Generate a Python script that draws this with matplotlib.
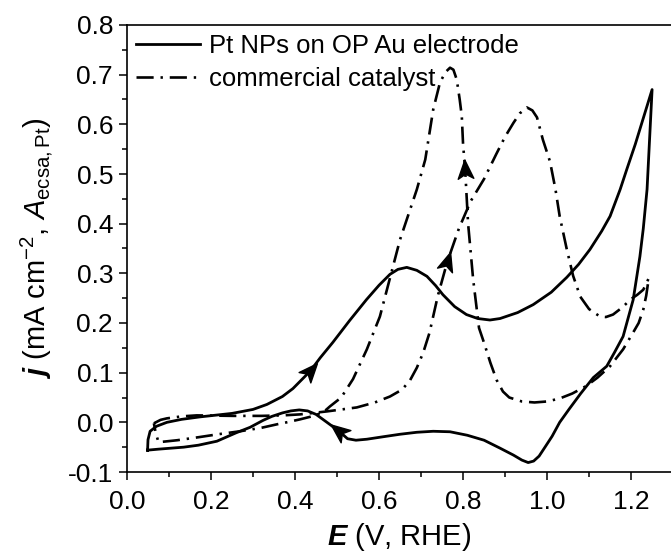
import numpy as np
import matplotlib
matplotlib.use("Agg")
import matplotlib.pyplot as plt
from matplotlib.path import Path
from matplotlib.markers import MarkerStyle
from matplotlib.transforms import Affine2D
from matplotlib.ticker import MultipleLocator, FormatStrFormatter

plt.rcParams['font.family'] = ['Liberation Sans', 'DejaVu Sans']
plt.rcParams['mathtext.fontset'] = 'custom'
plt.rcParams['mathtext.rm'] = 'Liberation Sans'
plt.rcParams['mathtext.it'] = 'Liberation Sans:italic'
plt.rcParams['mathtext.bf'] = 'Liberation Sans:bold:italic'
plt.rcParams['axes.unicode_minus'] = False

# --- datos (E en V vs RHE, j en mA cm-2) ---
# Pt NPs sobre electrodo OP Au: barrido anodico y luego catodico
pt_E = [0.049, 0.050, 0.055, 0.07, 0.095, 0.13, 0.174, 0.25, 0.30, 0.333, 0.37, 0.395,
        0.436, 0.46, 0.49, 0.53, 0.57, 0.60, 0.626, 0.645, 0.666, 0.69, 0.714, 0.735,
        0.752, 0.78, 0.808, 0.835, 0.864, 0.888, 0.93, 0.967, 1.01, 1.047, 1.075, 1.102,
        1.13, 1.15, 1.174, 1.19, 1.21, 1.23, 1.25,
        1.244, 1.238, 1.229, 1.221, 1.205, 1.181, 1.16, 1.142, 1.11, 1.08, 1.052, 1.03,
        1.012, 0.995, 0.981, 0.968, 0.955, 0.94, 0.92, 0.888, 0.85, 0.81, 0.769, 0.729,
        0.69, 0.65, 0.61, 0.571, 0.545, 0.525, 0.505, 0.476, 0.45, 0.43, 0.41, 0.39,
        0.37, 0.345, 0.324, 0.293, 0.26, 0.214, 0.17, 0.135, 0.105, 0.075, 0.049]
pt_j = [-0.056, -0.035, -0.018, -0.008, 0.0, 0.006, 0.011, 0.018, 0.026, 0.036, 0.052, 0.068,
        0.103, 0.13, 0.161, 0.205, 0.247, 0.276, 0.298, 0.308, 0.312, 0.306, 0.294, 0.275,
        0.257, 0.233, 0.217, 0.209, 0.206, 0.209, 0.221, 0.237, 0.262, 0.292, 0.318, 0.348,
        0.385, 0.415, 0.469, 0.51, 0.56, 0.615, 0.67,
        0.57, 0.469, 0.39, 0.334, 0.247, 0.173, 0.14, 0.113, 0.09, 0.058, 0.026, 0.0,
        -0.028, -0.05, -0.068, -0.078, -0.081, -0.076, -0.066, -0.052, -0.036, -0.026, -0.019, -0.018,
        -0.02, -0.024, -0.029, -0.034, -0.036, -0.033, -0.018, 0.0, 0.016, 0.023, 0.025, 0.023,
        0.019, 0.012, 0.004, -0.01, -0.021, -0.038, -0.046, -0.05, -0.052, -0.054, -0.056]

# catalizador comercial
com_E = [0.064, 0.08, 0.095, 0.13, 0.166, 0.253, 0.32, 0.371, 0.412, 0.476, 0.547, 0.59,
         0.626, 0.655, 0.674, 0.69, 0.705, 0.72, 0.74, 0.762, 0.79, 0.818, 0.85, 0.879,
         0.90, 0.92, 0.935, 0.952, 0.965, 0.976, 0.99, 1.007, 1.02, 1.03, 1.047, 1.062,
         1.079, 1.10, 1.126, 1.14, 1.157, 1.18, 1.198, 1.215, 1.229, 1.242,
         1.236, 1.229, 1.218, 1.205, 1.181, 1.15, 1.12, 1.093, 1.06, 1.03, 1.0, 0.97,
         0.94, 0.91, 0.895, 0.88, 0.865, 0.85, 0.838, 0.824, 0.812, 0.805, 0.80, 0.797,
         0.792, 0.785, 0.777, 0.769, 0.758, 0.745, 0.729, 0.71, 0.69, 0.65, 0.602, 0.571,
         0.538, 0.51, 0.483, 0.467, 0.44, 0.412, 0.38, 0.357, 0.32, 0.269, 0.217, 0.17,
         0.12, 0.075, 0.068, 0.064]
com_j = [-0.002, 0.005, 0.008, 0.012, 0.014, 0.013, 0.013, 0.014, 0.016, 0.022, 0.03, 0.04,
         0.052, 0.066, 0.085, 0.11, 0.14, 0.18, 0.255, 0.322, 0.39, 0.445, 0.49, 0.54,
         0.575, 0.603, 0.622, 0.634, 0.628, 0.614, 0.569, 0.525, 0.469, 0.415, 0.348, 0.295,
         0.253, 0.228, 0.213, 0.212, 0.217, 0.232, 0.247, 0.257, 0.267, 0.29,
         0.255, 0.227, 0.20, 0.181, 0.147, 0.113, 0.09, 0.073, 0.058, 0.048, 0.042, 0.04,
         0.042, 0.05, 0.062, 0.085, 0.12, 0.16, 0.19, 0.288, 0.40, 0.509, 0.56, 0.616,
         0.65, 0.69, 0.71, 0.714, 0.705, 0.684, 0.63, 0.529, 0.469, 0.368, 0.213, 0.147,
         0.087, 0.05, 0.032, 0.02, 0.012, 0.006, 0.0, -0.004, -0.011, -0.018, -0.024, -0.03,
         -0.036, -0.04, -0.02, -0.002]

# flechas de sentido de barrido: (serie, E, j aproximados)
arrow_targets = [("pt", 0.436, 0.103), ("pt", 0.505, -0.018),
                 ("com", 0.805, 0.509), ("com", 0.762, 0.322)]

labels = ["Pt NPs on OP Au electrode", "commercial catalyst"]

fig = plt.figure(figsize=(6.71, 5.6), dpi=100)
ax = fig.add_axes([127 / 671, 1 - 472 / 560, 544 / 671, 447 / 560])

ax.plot(pt_E, pt_j, color='black', lw=2.0, label=labels[0], solid_joinstyle='round')
ax.plot(com_E, com_j, color='black', lw=1.9, dashes=(6.5, 2.6, 0.9, 2.6), label=labels[1])

ax.set_xlim(0.0, 1.295)
ax.set_ylim(-0.1, 0.8)

# puntas de flecha tipo "stealth" orientadas segun la curva
head = Path([(1, 0), (-0.8, 0.75), (-0.35, 0), (-0.8, -0.75), (1, 0)],
            [Path.MOVETO, Path.LINETO, Path.LINETO, Path.LINETO, Path.CLOSEPOLY])
series = {"pt": (np.array(pt_E), np.array(pt_j)), "com": (np.array(com_E), np.array(com_j))}
for name, ex, jy in arrow_targets:
    xs, ys = series[name]
    i = int(np.argmin((xs - ex) ** 2 + (ys - jy) ** 2))
    p0 = ax.transData.transform((xs[i - 1], ys[i - 1]))
    p1 = ax.transData.transform((xs[i + 1], ys[i + 1]))
    ang = np.degrees(np.arctan2(p1[1] - p0[1], p1[0] - p0[0]))
    m = MarkerStyle(head, transform=Affine2D().rotate_deg(ang))
    ax.plot([xs[i]], [ys[i]], marker=m, ms=15, color='black', ls='none')

ax.xaxis.set_major_locator(MultipleLocator(0.2))
ax.xaxis.set_minor_locator(MultipleLocator(0.1))
ax.yaxis.set_major_locator(MultipleLocator(0.1))
ax.yaxis.set_minor_locator(MultipleLocator(0.05))
ax.xaxis.set_major_formatter(FormatStrFormatter('%.1f'))
ax.yaxis.set_major_formatter(FormatStrFormatter('%.1f'))
ax.tick_params(which='major', direction='out', length=6, width=1.1, labelsize=19, pad=7)
ax.tick_params(which='minor', direction='out', length=3.5, width=1.1)
ax.tick_params(axis='y', pad=4)
for s in ['left', 'bottom', 'top']:
    ax.spines[s].set_linewidth(1.2)
ax.spines['right'].set_visible(False)

ax.set_xlabel(r'$\mathbf{E}$ (V, RHE)', fontsize=21, labelpad=5)
ax.set_ylabel(r'$\mathbf{j}$ (mA cm$^{-2}$, $A_{\mathrm{ecsa,Pt}}$)', fontsize=21, labelpad=9)

ax.legend(loc='upper left', bbox_to_anchor=(0.005, 0.995), frameon=False, fontsize=18.5,
          handlelength=2.5, handletextpad=0.35, labelspacing=0.35, borderaxespad=0, borderpad=0.25)

fig.savefig('out.png', dpi=100)
